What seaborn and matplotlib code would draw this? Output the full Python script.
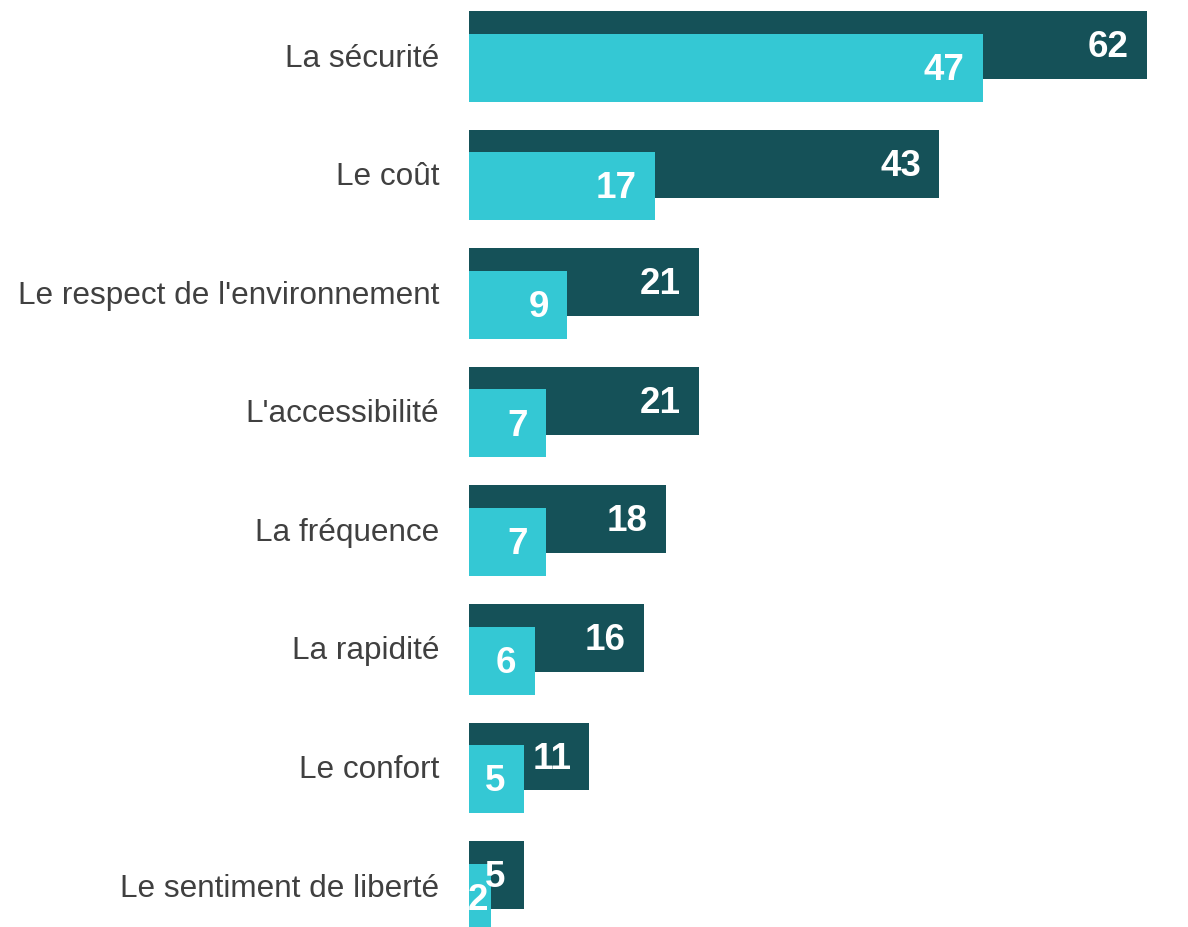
import numpy as np
import pandas as pd
import seaborn as sns
import matplotlib.pyplot as plt

# categories and the two series (dark = total, light = first answer)
categories = ["La sécurité", "Le coût", "Le respect de l'environnement",
              "L'accessibilité", "La fréquence", "La rapidité",
              "Le confort", "Le sentiment de liberté"]
total = [62, 43, 21, 21, 18, 16, 11, 5]
first = [47, 17, 9, 7, 7, 6, 5, 2]

dark = "#155158"
light = "#34c8d4"

sns.set_style("white")
plt.rcParams['font.family'] = ['Liberation Sans', 'DejaVu Sans']

pos = np.arange(len(categories))
df_total = pd.DataFrame({"value": total, "pos": pos - 0.084})
df_first = pd.DataFrame({"value": first, "pos": pos + 0.107})

fig = plt.figure(figsize=(11.88, 9.27), dpi=100)
ax = fig.add_axes([469 / 1188, 0, 710.5 / 1188, 1])

sns.barplot(data=df_total, x="value", y="pos", orient="y", native_scale=True,
            width=0.573, color=dark, saturation=1, errorbar=None,
            linewidth=0, ax=ax)
sns.barplot(data=df_first, x="value", y="pos", orient="y", native_scale=True,
            width=0.573, color=light, saturation=1, errorbar=None,
            linewidth=0, ax=ax)

# value labels, right-aligned inside the bar ends
for df in (df_total, df_first):
    for v, y in zip(df["value"], df["pos"]):
        ax.text(max(v - 1.65, 1.74), y + 0.022, str(v), ha="right",
                va="center", color="white", fontsize=26.5, fontweight="bold")

ax.set_xlim(0, 65)
ax.set_ylim(7.354, -0.464)
ax.set_yticks(pos)
ax.set_yticklabels(categories, fontsize=22.7, color="#404040")
ax.tick_params(axis="y", length=0, pad=21.6)
ax.set_xticks([])
ax.set_xlabel("")
ax.set_ylabel("")
sns.despine(ax=ax, left=True, bottom=True)

plt.savefig("out.png", dpi=100)
